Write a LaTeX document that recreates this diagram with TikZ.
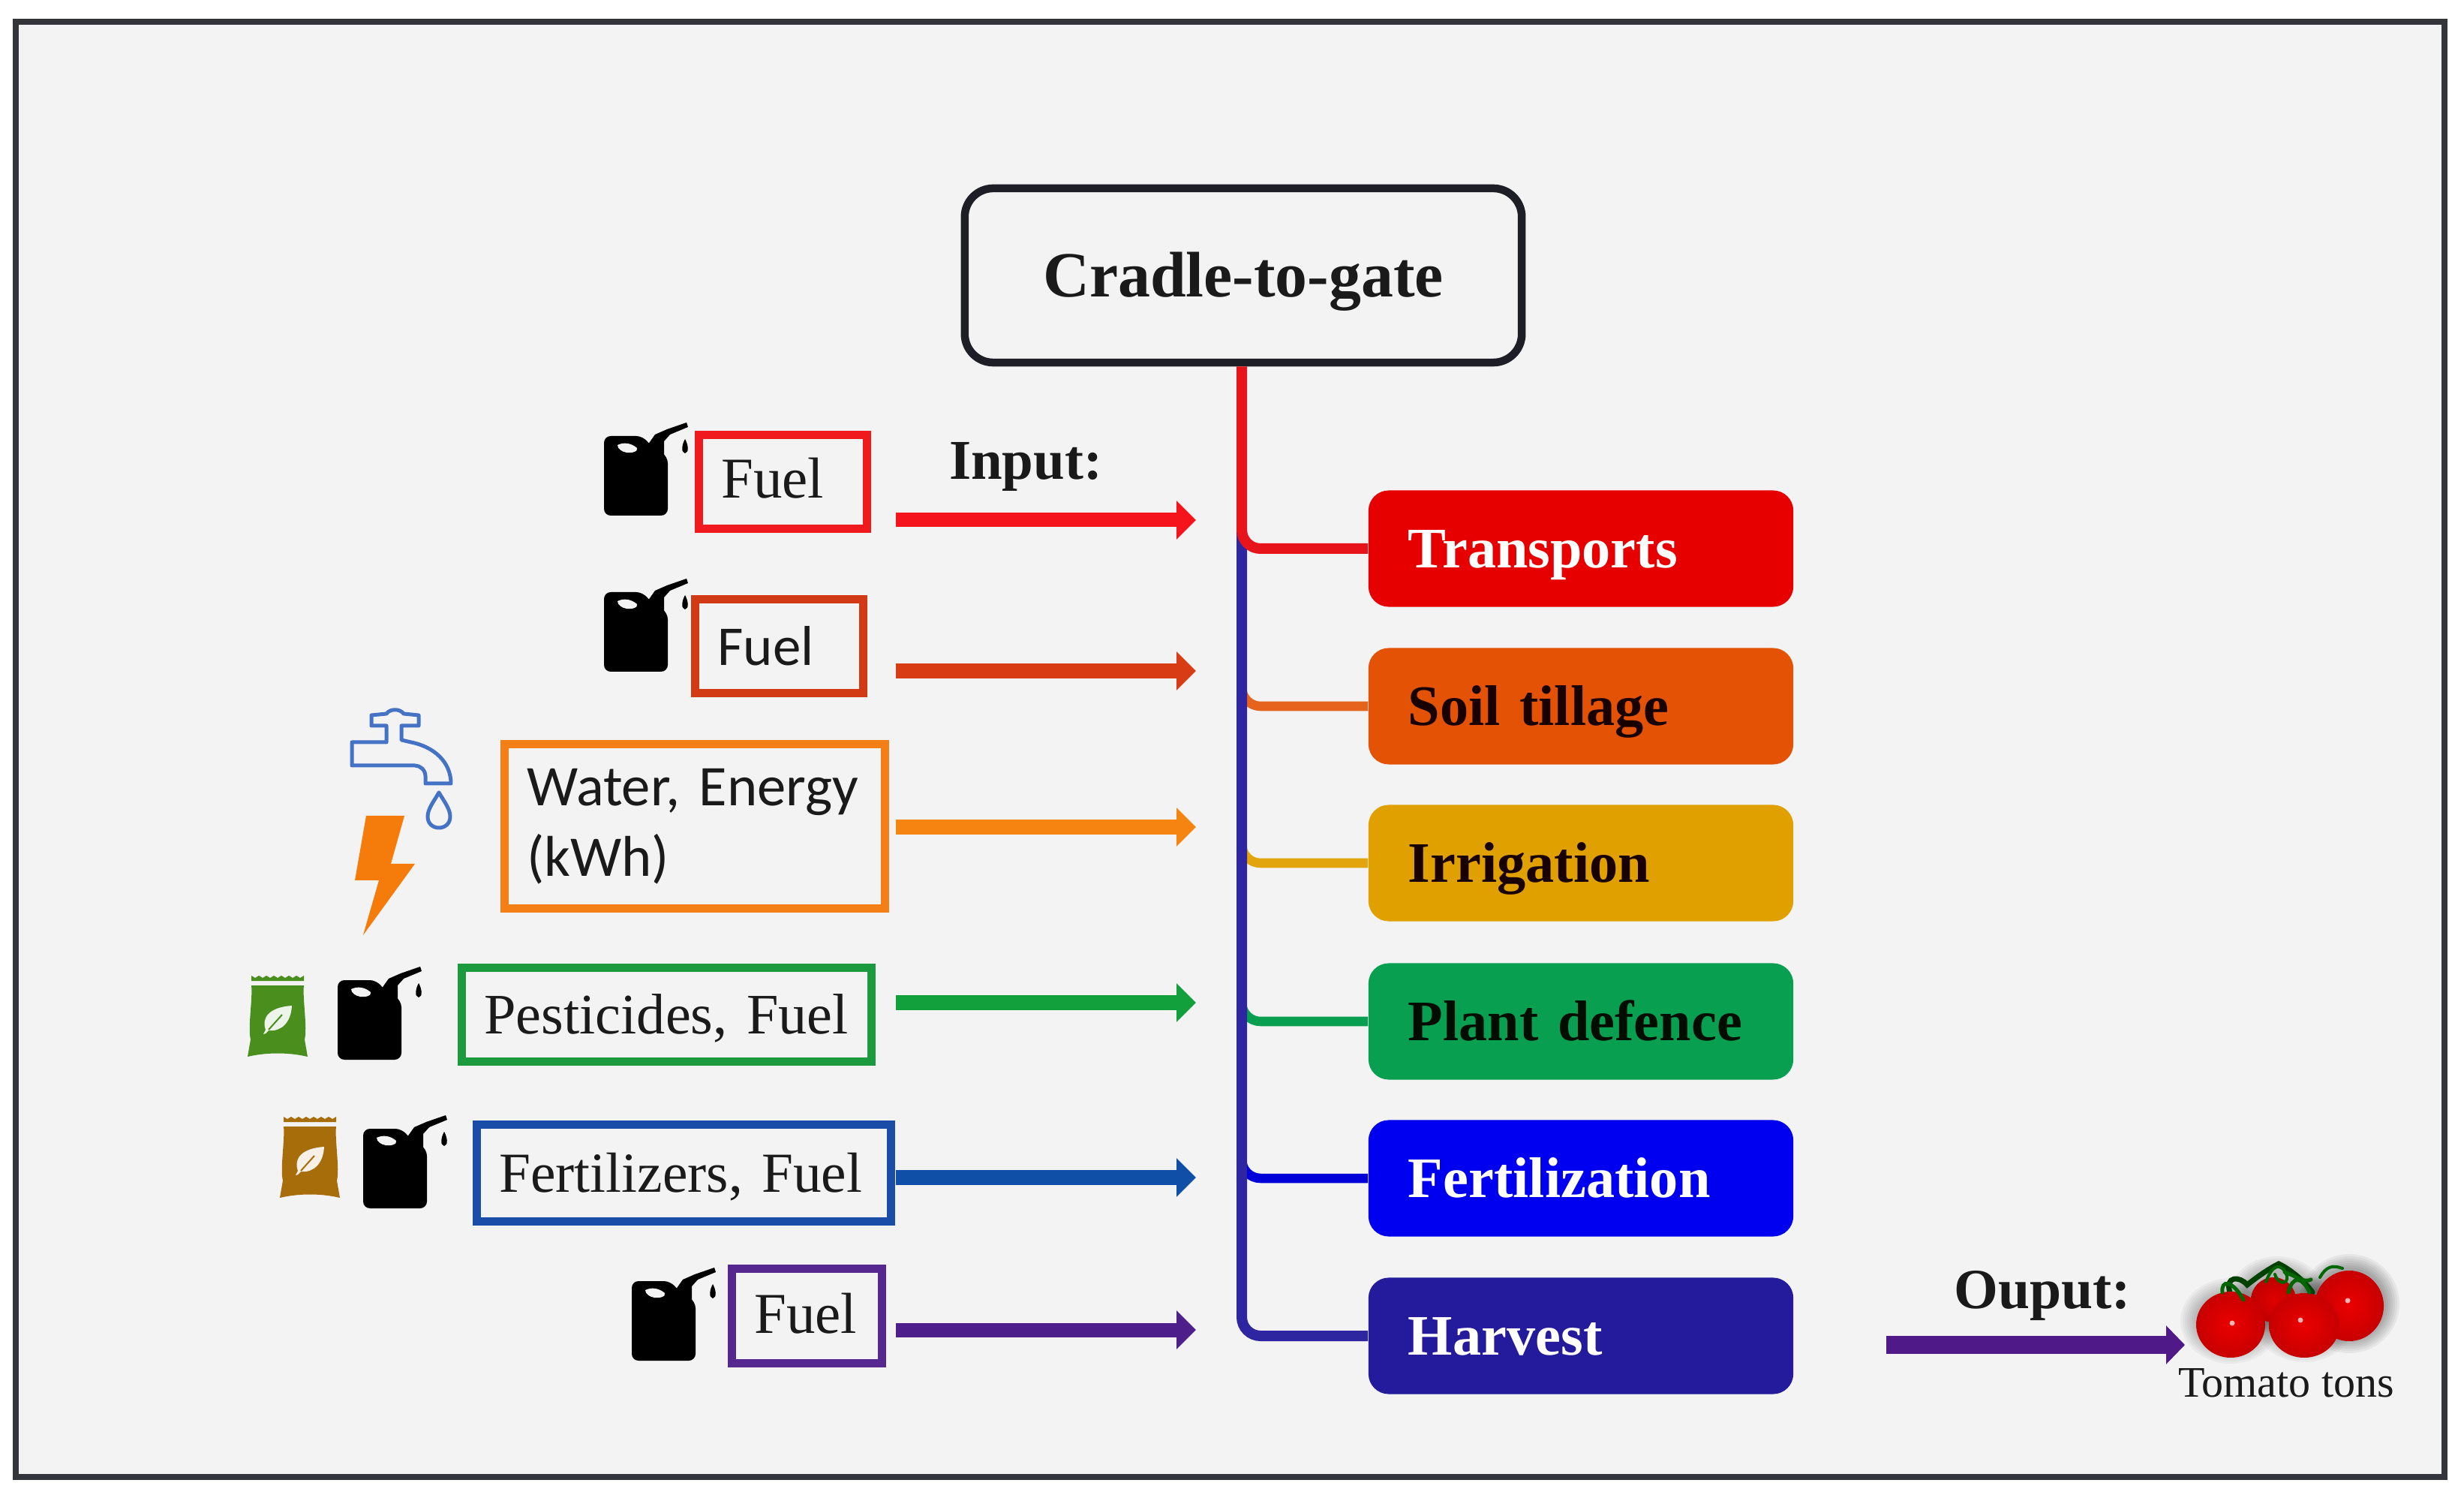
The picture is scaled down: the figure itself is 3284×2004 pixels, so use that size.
\documentclass[tikz,border=0pt]{standalone}
\usepackage{fontspec}
\usetikzlibrary{arrows.meta}
\setmainfont{Liberation Serif}
\newfontfamily\carlitofont{Carlito}
\definecolor{bgc}{HTML}{F3F3F3}
\definecolor{framec}{HTML}{33353A}
\definecolor{inkc}{HTML}{1A1A1A}
\definecolor{topc}{HTML}{1E1E26}
\definecolor{cRed}{HTML}{E60000}
\definecolor{cSoil}{HTML}{E35205}
\definecolor{cIrr}{HTML}{E0A000}
\definecolor{cPlant}{HTML}{08A050}
\definecolor{cFert}{HTML}{0000F0}
\definecolor{cHarv}{HTML}{231A9C}
\definecolor{bxRed}{HTML}{F01A1E}
\definecolor{bxBrick}{HTML}{D23A16}
\definecolor{bxOrange}{HTML}{F57F17}
\definecolor{bxGreen}{HTML}{1C9A3E}
\definecolor{bxBlue}{HTML}{1A4DA8}
\definecolor{bxPurple}{HTML}{56278E}
\definecolor{arRed}{HTML}{F5141C}
\definecolor{arBrick}{HTML}{D83C14}
\definecolor{arOrange}{HTML}{F58410}
\definecolor{arGreen}{HTML}{12A03C}
\definecolor{arBlue}{HTML}{0F4FA8}
\definecolor{arPurple}{HTML}{4E1F8A}
\definecolor{arOut}{HTML}{4F1A87}
\definecolor{bagGreen}{HTML}{4A8F1E}
\definecolor{bagBrown}{HTML}{A66D0A}
\definecolor{tapBlue}{HTML}{4472C4}
\definecolor{boltOrange}{HTML}{F57C0A}
\definecolor{trunkRed}{HTML}{E8141C}
\tikzset{
  x=0.01cm,y=-0.01cm,
  stage/.style={draw=none,rounded corners=0.27cm,minimum width=5.66cm,minimum height=1.55cm,
    inner xsep=0.53cm,inner ysep=0pt,text width=4.6cm,align=left,text height=0.51cm,text depth=0pt,
    font=\fontsize{21.7}{26}\selectfont\bfseries},
  inbox/.style={draw=#1,line width=0.11cm,inner xsep=0.30cm,inner ysep=0pt,align=left,text=inkc,
    font=\fontsize{21.9}{26.7}\selectfont},
  capfit/.style={text height=0.5cm,text depth=0pt},
  feed/.style={line width=0.19cm,draw=#1,fill=#1,-{Triangle[length=0.26cm,width=0.50cm]}},
  branch/.style={line width=0.125cm,rounded corners=0.25cm},
  trunkline/.style={line width=0.14cm,rounded corners=0.25cm},
  plain label/.style={text=inkc,inner sep=0pt},
  pics/jerry/.style={code={
    \fill[black,rounded corners=0.09cm] (0,-1)--(52,-1)--(62,12)--(85,26)--(85,105)--(0,105)--cycle;
    \fill[black] (56,14)--(68,-3)--(84,-10)--(110,-19)--(112,-13)--(88,-3)--(80,6)--(80,24)--cycle;
    \fill[bgc] (18,11) .. controls (26,7) and (36,8) .. (44,15) .. controls (46,20) and (36,22) .. (30,21) .. controls (24,20) and (18,16) .. (18,11) -- cycle;
    \fill[black] (108,3) .. controls (104,10) and (102,21) .. (108,22) .. controls (114,21) and (112,10) .. (108,3);
  }},
  pics/bag/.style={code={
    \fill[#1] (5,0)--(10,3)--(15,0)--(20,3)--(25,0)--(30,3)--(35,0)--(40,3)--(45,0)--(50,3)--(55,0)--(60,3)--(65,0)--(70,3)--(75,0)--(75,7)--(5,7)--cycle;
    \fill[#1] (5,13)--(75,13) .. controls (73,30) and (80,70) .. (76,85) -- (80,108) .. controls (55,102) and (25,102) .. (0,108) -- (4,85) .. controls (0,70) and (7,30) .. (5,13) -- cycle;
    \fill[white!90!#1] (59,40) .. controls (30,42) and (18,55) .. (24,72) -- (21,78) -- (24,77) -- (28,73) .. controls (45,75) and (58,62) .. (59,40) -- cycle;
    \draw[#1,line width=0.02cm] (28,72) -- (46,52);
  }},
  tomato/.style={inner color=#1,outer color=#1!85!black},
}
\begin{document}
\begin{tikzpicture}
\useasboundingbox (0,0) rectangle (3284,2004);
\fill[white] (0,0) rectangle (3284,2004);
\draw[framec,line width=0.08cm,fill=bgc] (21,29) rectangle (3258,1968);

% central top box
\node[draw=topc,line width=0.105cm,rounded corners=0.38cm,minimum width=7.42cm,minimum height=2.32cm,
      inner sep=0pt,text=inkc,text height=0.56cm,text depth=0pt,font=\fontsize{24.4}{28}\selectfont\bfseries] (cradle) at (1657,367) {Cradle-to-gate};

\coordinate (trunk) at (1655,600);

% stage boxes
\node[stage,fill=cRed,text=white] (transports) at (2107,731) {Transports};
\node[stage,fill=cSoil,text=black!90!red] (soil) at (2107,941) {Soil tillage};
\node[stage,fill=cIrr,text=black!90!red] (irrigation) at (2107,1150) {Irrigation};
\node[stage,fill=cPlant,text=black!95!green] (defence) at (2107,1361) {Plant defence};
\node[stage,fill=cFert,text=white] (fertilization) at (2107,1570) {Fertilization};
\node[stage,fill=cHarv,text=white] (harvest) at (2107,1780) {Harvest};

% branches
\draw[branch,draw=cSoil!90!white] (soil.west -| trunk) ++(0,-45) -- (soil.west -| trunk) -- (soil.west);
\draw[branch,draw=cIrr!95!white] (irrigation.west -| trunk) ++(0,-45) -- (irrigation.west -| trunk) -- (irrigation.west);
\draw[branch,draw=cPlant] (defence.west -| trunk) ++(0,-45) -- (defence.west -| trunk) -- (defence.west);
\draw[branch,draw=cFert!90!black] (fertilization.west -| trunk) ++(0,-45) -- (fertilization.west -| trunk) -- (fertilization.west);
\draw[trunkline,draw=cHarv!95!white] (transports.west -| trunk) ++(0,-25) -- (harvest.west -| trunk) -- (harvest.west);
\draw[trunkline,draw=trunkRed] (cradle.south -| trunk) -- (transports.west -| trunk) -- (transports.west);

% input boxes
\node[inbox=bxRed,capfit,text width=1.64cm,minimum height=1.25cm] (fuelA) at (1043.5,642) {\raisebox{0.04cm}{Fuel}};
\node[inbox=bxBrick,capfit,text width=1.64cm,minimum height=1.25cm,
      font=\fontsize{21.3}{26}\selectfont\carlitofont] (fuelB) at (1038.5,861) {Fuel};
\node[inbox=bxOrange,text width=4.47cm,minimum height=2.19cm,
      font=\fontsize{21.8}{26.7}\selectfont\carlitofont] (water) at (926,1101) {\raisebox{-0.08cm}{Water, Energy}\\\raisebox{-0.08cm}{(kWh)}};
\node[inbox=bxGreen,capfit,text width=4.86cm,minimum height=1.25cm,font=\fontsize{21.7}{26.7}\selectfont] (pest) at (888.5,1352) {\mbox{Pesticides, Fuel}};
\node[inbox=bxBlue,capfit,text width=4.92cm,minimum height=1.29cm,font=\fontsize{21.45}{26.7}\selectfont] (fert) at (911.5,1563) {\mbox{Fertilizers, Fuel}};
\node[inbox=bxPurple,capfit,text width=1.40cm,minimum height=1.26cm] (fuelC) at (1075.5,1753.5) {\raisebox{0.02cm}{Fuel}};

% input arrows
\coordinate (s1) at (1194,693);  \coordinate (e1) at (1594,693);
\coordinate (s2) at (1194,894);  \coordinate (e2) at (1594,894);
\coordinate (s3) at (1194,1102); \coordinate (e3) at (1594,1102);
\coordinate (s4) at (1194,1336); \coordinate (e4) at (1594,1336);
\coordinate (s5) at (1194,1569); \coordinate (e5) at (1594,1569);
\coordinate (s6) at (1194,1772); \coordinate (e6) at (1594,1772);
\draw[feed=arRed] (s1) -- (e1);
\draw[feed=arBrick] (s2) -- (e2);
\draw[feed=arOrange] (s3) -- (e3);
\draw[feed=arGreen] (s4) -- (e4);
\draw[feed=arBlue] (s5) -- (e5);
\draw[feed=arPurple] (s6) -- (e6);

\coordinate (os) at (2514,1792); \coordinate (oe) at (2912,1792);
\draw[line width=0.24cm,-{Triangle[length=0.25cm,width=0.50cm]},draw=arOut,fill=arOut] (os) -- (oe);

% labels
\node[plain label,font=\fontsize{21.3}{26}\selectfont\bfseries] (inlab) at (1367,622) {Input:};
\node[plain label,font=\fontsize{21.5}{26}\selectfont\bfseries] (outlab) at (2722,1727) {Ouput:};
\node[plain label,font=\fontsize{16.5}{20}\selectfont] (tomlab) at (3047,1843) {Tomato tons};

% jerrycans
\pic at (805,582) {jerry};
\pic at (805,790) {jerry};
\pic at (450,1307) {jerry};
\pic at (484,1505) {jerry};
\pic at (842,1708) {jerry};

% bags
\pic at (330,1300) {bag=bagGreen};
\pic at (373,1488) {bag=bagBrown};

% tap
\draw[tapBlue,line width=0.05cm,line join=round]
  (469,989)--(515,989)--(515,967)--(495,967)--(495,953)--(515,951) .. controls (520,944) and (533,944) .. (538,951)
  --(558,953)--(558,967)--(535,967)--(535,986)--(548,989) .. controls (578,995) and (601,1015) .. (601,1044)
  --(567,1044)--(567,1034) .. controls (567,1026) and (560,1020) .. (553,1020)--(469,1020)--cycle;
\draw[tapBlue,line width=0.05cm,line join=round]
  (585,1056) .. controls (578,1068) and (570,1078) .. (570,1088) .. controls (570,1108) and (600,1108) .. (600,1088) .. controls (600,1078) and (592,1068) .. (585,1056) -- cycle;
% bolt
\fill[boltOrange] (488,1087)--(539,1087)--(521,1151)--(553,1151)--(484,1246)--(505,1173)--(473,1173)--cycle;

% tomatoes: soft shadow
\foreach \g in {3,6,9,12,15,18,21}{
  \fill[black,opacity=.035] (2973,1760) ellipse ({46+\g} and {36+\g});
  \fill[black,opacity=.035] (3071,1758) ellipse ({47+\g} and {36+\g});
  \fill[black,opacity=.05] (3131,1737) ellipse ({46+\g} and {45+\g});
  \fill[black,opacity=.04] (3035,1725) ellipse ({42+\g} and {30+\g});
}
\shade[tomato=red!88!black] (3030,1732) ellipse (30 and 30);
\draw[black!75!green,line width=0.07cm,line cap=round] (2972,1722) .. controls (2965,1700) and (2985,1700) .. (2995,1712) .. controls (3010,1700) and (3025,1690) .. (3037,1684) .. controls (3050,1690) and (3070,1705) .. (3082,1722);
\shade[tomato=red!92!black] (3131,1740) ellipse (46 and 47);
\shade[tomato=red!92!black] (2973,1765) ellipse (46 and 44);
\shade[tomato=red!92!black] (3071,1766) ellipse (47 and 43);
\draw[green!40!black,line width=0.05cm,line cap=round] (2962,1722) .. controls (2960,1705) and (2975,1705) .. (2990,1732);
\draw[green!40!black,line width=0.04cm,line cap=round] (3020,1708) .. controls (3028,1686) and (3040,1680) .. (3048,1700) .. controls (3050,1712) and (3036,1712) .. (3032,1698);
\draw[green!40!black,line width=0.05cm,line cap=round] (3050,1722) .. controls (3055,1700) and (3068,1700) .. (3078,1722);
\draw[black!60!green,line width=0.05cm,line cap=round] (3045,1695) .. controls (3060,1700) and (3070,1710) .. (3080,1705);
\draw[green!40!black,line width=0.04cm,line cap=round] (3092,1702) .. controls (3100,1688) and (3108,1685) .. (3122,1690);
\fill[white!70!red] (2975,1763) circle (3.5);
\fill[white!70!red] (3066,1759) circle (3.5);
\fill[white!70!red] (3129,1733) circle (3.5);
\end{tikzpicture}
\end{document}
